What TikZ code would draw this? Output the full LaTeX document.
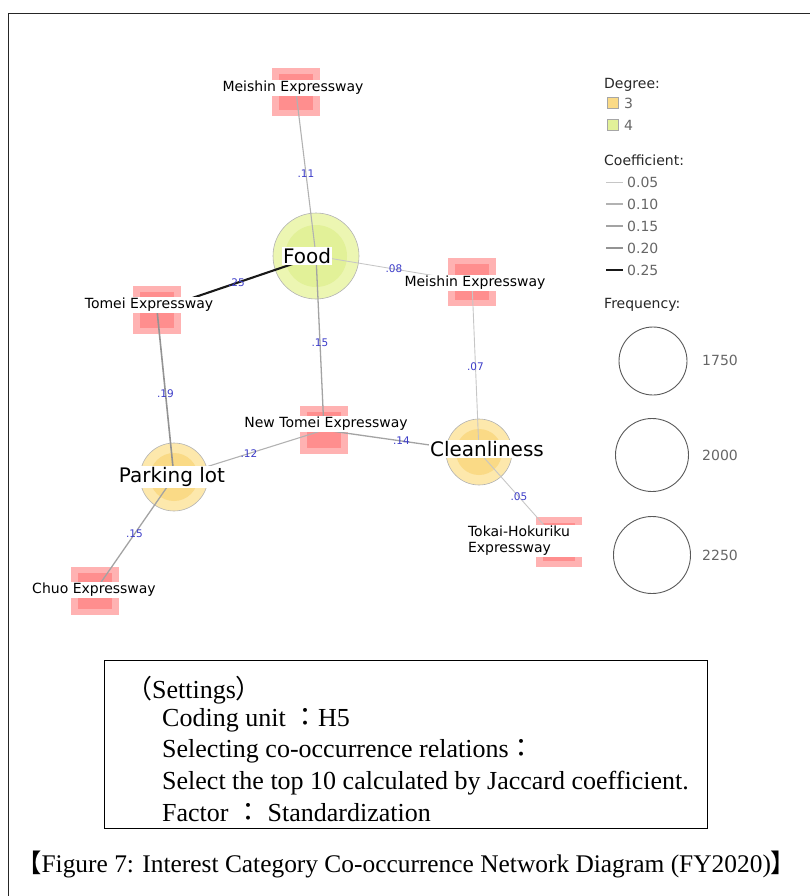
\documentclass[tikz,border=0pt]{standalone}
\usepackage{fontspec}
\setmainfont{Liberation Serif}
\newfontfamily\netfont{DejaVu Sans}
\newfontfamily\cjk{Noto Sans CJK JP}
\definecolor{pinkout}{RGB}{255,178,178}
\definecolor{pinkin}{RGB}{255,142,142}
\definecolor{greenout}{RGB}{236,246,178}
\definecolor{greenin}{RGB}{226,241,152}
\definecolor{yellowout}{RGB}{253,232,172}
\definecolor{yellowin}{RGB}{250,218,134}
\definecolor{elbl}{RGB}{60,60,200}
\tikzset{
  catnode/.style={circle, draw=gray!60, line width=0.6pt, inner sep=0pt},
  exbox/.style={rectangle, fill=pinkout, minimum width=48pt, minimum height=48pt, inner sep=0pt,
    path picture={\fill[pinkin] ([xshift=7pt,yshift=-6pt]path picture bounding box.north west) rectangle ([xshift=-7pt,yshift=6pt]path picture bounding box.south east);}},
  catlbl/.style={fill=white, inner sep=1.5pt, font=\netfont\fontsize{20}{22}\selectfont},
  exlbl/.style={fill=white, inner sep=1pt, font=\netfont\fontsize{14}{16}\selectfont, align=left},
  elabel/.style={font=\netfont\fontsize{10.5}{11}\selectfont, text=elbl, inner sep=0pt},
  cA/.style={draw=gray!45, line width=0.9pt},
  cB/.style={draw=gray!60, line width=1.1pt},
  cC/.style={draw=gray!72, line width=1.3pt},
  cD/.style={draw=gray!85, line width=1.6pt},
  cE/.style={draw=black!90, line width=2.1pt},
  legtitle/.style={anchor=west, inner sep=0pt, font=\netfont\fontsize{14}{16}\selectfont, text=black!85},
  legitem/.style={anchor=west, inner sep=0pt, font=\netfont\fontsize{14}{16}\selectfont, text=black!60},
  legcirc/.style={circle, draw=black!65, line width=0.9pt, inner sep=0pt},
  settxt/.style={anchor=west, inner sep=0pt, font=\fontsize{26}{28}\selectfont},
  captxt/.style={anchor=west, inner sep=0pt, font=\fontsize{25.4}{28}\selectfont},
}
\begin{document}
\begin{tikzpicture}[x=1pt,y=-1pt]
\useasboundingbox (0,0) rectangle (810,896);
% outer frame
\draw[line width=1.6pt, black!85] (8.5,896) -- (8.5,13.5) -- (810,13.5);

% category circles
\node[catnode, fill=greenout, minimum size=86pt] (food) at (316,256) {};
\fill[greenin] (food.center) circle (31pt);
\node[catnode, fill=yellowout, minimum size=68pt] (park) at (174,477) {};
\fill[yellowin] (park.center) circle (24pt);
\node[catnode, fill=yellowout, minimum size=66pt] (clean) at (479,452) {};
\fill[yellowin] (clean.center) circle (23pt);

% expressway boxes
\node[exbox] (meitop) at (296,92) {};
\node[exbox] (tomei) at (157,310) {};
\node[exbox] (meiright) at (472,282) {};
\node[exbox] (newtomei) at (324,430) {};
\node[exbox, minimum width=46pt, minimum height=50pt] (tokai) at (559,542) {};
\node[exbox] (chuo) at (95,591) {};

% edges
\draw[cB] (meitop.center) -- node[elabel]{.11} (food.center);
\draw[cE] (food.center) -- node[elabel]{.25} (tomei.center);
\draw[cA] (food.center) -- node[elabel]{.08} (meiright.center);
\draw[cC] (food.center) -- node[elabel]{.15} (newtomei.center);
\draw[cA] (meiright.center) -- node[elabel]{.07} (clean.center);
\draw[cD] (tomei.center) -- node[elabel]{.19} (park.center);
\draw[cB] (park.center) -- node[elabel]{.12} (newtomei.center);
\draw[cC] (newtomei.center) -- node[elabel]{.14} (clean.center);
\draw[cA] (clean.center) -- node[elabel]{.05} (tokai.center);
\draw[cC] (park.center) -- node[elabel]{.15} (chuo.center);

% labels
\node[catlbl] (foodl) at (307,256) {Food};
\node[catlbl] (parkl) at (172,477) {Parking lot};
\node[catlbl] (cleanl) at (487,449) {Cleanliness};
\node[exlbl] (meitopl) at (293,88) {Meishin Expressway};
\node[exlbl] (tomeil) at (149,305) {Tomei Expressway};
\node[exlbl] (meirightl) at (475,283) {Meishin Expressway};
\node[exlbl] (newtomeil) at (326,424) {New Tomei Expressway};
\node[exlbl, text width=118pt] (tokail) at (527,541) {Tokai-Hokuriku\\Expressway};
\node[exlbl] (chuol) at (94,590) {Chuo Expressway};

% legend
\node[legtitle] (degt) at (604,85) {Degree:};
\node[rectangle, draw=gray!70, fill=yellowin, minimum size=11pt, inner sep=0pt] (deg3) at (613,103) {};
\node[legitem] (deg3l) at (624,103) {3};
\node[rectangle, draw=gray!70, fill=greenin, minimum size=11pt, inner sep=0pt] (deg4) at (613,125) {};
\node[legitem] (deg4l) at (624,125) {4};
\node[legtitle] (coeft) at (604,160) {Coefficient:};
\draw[cA] (606,182) -- (623,182);
\node[legitem] (c1) at (627,182) {0.05};
\draw[cB] (606,204) -- (623,204);
\node[legitem] (c2) at (627,204) {0.10};
\draw[cC] (606,226) -- (623,226);
\node[legitem] (c3) at (627,226) {0.15};
\draw[cD] (606,248) -- (623,248);
\node[legitem] (c4) at (627,248) {0.20};
\draw[cE] (606,270) -- (623,270);
\node[legitem] (c5) at (627,270) {0.25};
\node[legtitle] (freqt) at (604,305) {Frequency:};
\node[legcirc, minimum size=68pt] (f1) at (653,361) {};
\node[legitem] (f1l) at (702,360) {1750};
\node[legcirc, minimum size=73pt] (f2) at (652,455) {};
\node[legitem] (f2l) at (702,455) {2000};
\node[legcirc, minimum size=77pt] (f3) at (652,555) {};
\node[legitem] (f3l) at (702,555) {2250};

% settings box
\node[draw=black, line width=1pt, minimum width=603pt, minimum height=168pt, anchor=north west, inner sep=0pt] (setbox) at (104,660) {};
\node[settxt] (s0) at (126,690) {{\cjk （}Settings{\cjk ）}};
\node[settxt] (s1) at (162,720) {Coding unit {\cjk ：}H5};
\node[settxt] (s2) at (162,751) {Selecting co-occurrence relations{\cjk ：}};
\node[settxt] (s3) at (162,783) {Select the top 10 calculated by Jaccard coefficient.};
\node[settxt] (s4) at (162,813) {Factor {\cjk ：} Standardization};

% caption
\node[captxt] (cap) at (16,864) {{\cjk 【}Figure 7: Interest Category Co-occurrence Network Diagram (FY2020){\cjk 】}};
\end{tikzpicture}
\end{document}
